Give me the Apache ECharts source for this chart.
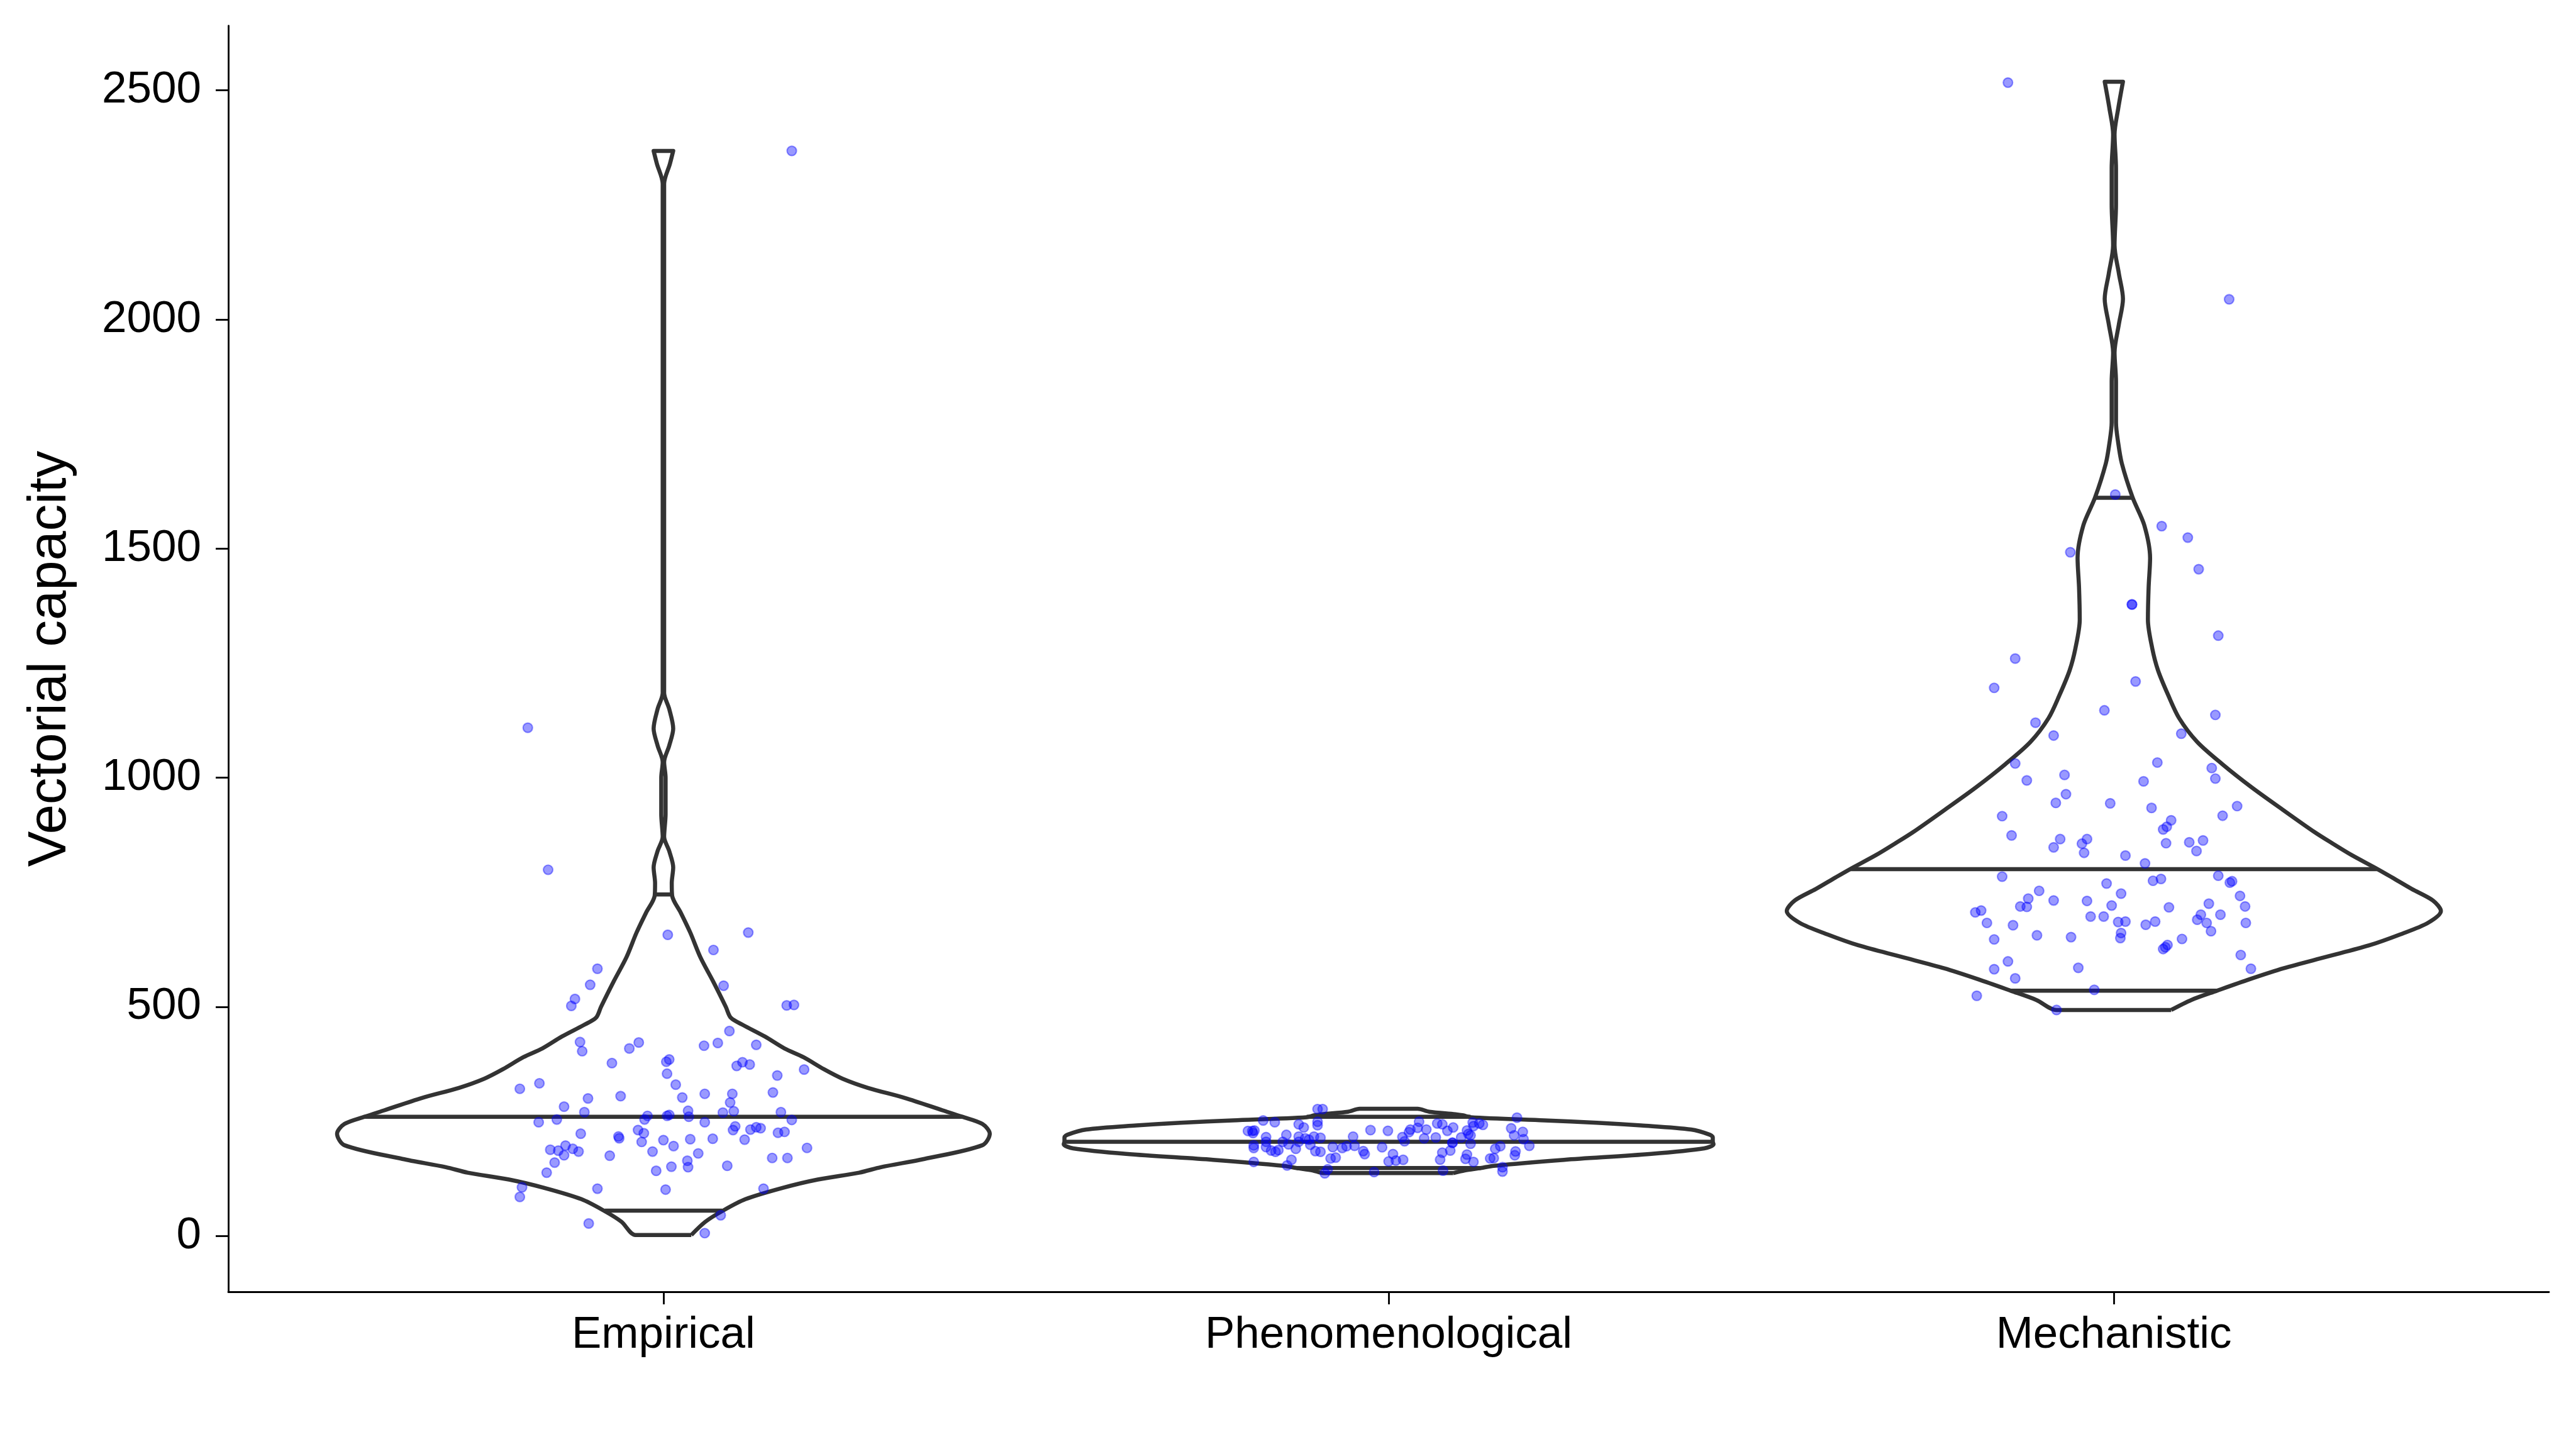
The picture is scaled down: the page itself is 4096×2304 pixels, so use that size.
<!DOCTYPE html>
<html>
<head>
<meta charset="utf-8">
<script src="https://cdn.jsdelivr.net/npm/echarts@6/dist/echarts.min.js"></script>
<style>html,body{margin:0;padding:0;background:#fff}#c{width:4096px;height:2304px}</style>
</head>
<body>
<div id="c"></div>
<script>
// ---------- categories & ticks ----------
const categories = ['Empirical', 'Phenomenological', 'Mechanistic'];
const categoryPositions = [0, 1, 2];
const yTicks = [0, 500, 1000, 1500, 2000, 2500];

// ---------- jittered points (value, horizontal jitter in category units) ----------
const empiricalY = [657,662,624,583,548,546,517,502,503,504,447,423,403,409,422,415,421,417,377,380,385,371,379,374,363,354,350,321,333,330,300,305,302,310,310,313,291,282,270,273,269,272,270,262,254,262,264,260,248,254,248,253,239,231,232,237,235,231,224,223,217,213,225,227,205,209,211,212,210,197,190,188,186,184,176,175,184,196,180,192,160,164,150,151,142,153,170,170,138,106,85,103,101,103,27,45,6,1109,799,2368];
const empiricalJitter = [0.006,0.117,0.069,-0.091,-0.101,0.083,-0.122,-0.127,0.170,0.180,0.091,-0.115,-0.112,-0.047,-0.034,0.056,0.075,0.128,-0.071,0.004,0.008,0.101,0.109,0.119,0.194,0.005,0.157,-0.198,-0.171,0.017,-0.104,-0.059,0.026,0.057,0.095,0.151,0.092,-0.137,-0.109,0.034,0.082,0.097,0.162,-0.022,-0.026,0.005,0.008,0.035,-0.172,-0.147,0.057,0.177,0.099,0.096,0.120,0.128,0.134,-0.035,-0.027,-0.114,-0.062,-0.061,0.158,0.167,-0.030,0.000,0.037,0.068,0.112,-0.135,-0.125,-0.156,-0.145,-0.117,-0.137,-0.074,-0.015,0.014,0.048,0.198,-0.150,0.033,0.034,0.011,-0.010,0.088,0.150,0.171,-0.161,-0.195,-0.198,-0.091,0.003,0.138,-0.103,0.079,0.057,-0.187,-0.159,0.177];

const phenomenologicalY = [276.7,276.7,251.8,248,258,229,229,230,224.4,215.6,205.3,193.8,197.6,191.9,161.4,186.2,183.5,187.3,205.3,220.5,199.6,190,243.5,236.6,216.7,205.3,212.9,209.9,198.8,216.7,214.1,185,183.5,249.2,241.5,193.8,169,170.9,191.9,195.7,216.7,196.5,185,178.5,166,153.7,145.3,136.5,230.9,193.4,229.3,178.5,162.5,164.4,166,139.2,215.6,206.4,226.3,232,235.8,249.2,232,212.9,214.8,245.4,243.5,229.3,236.6,203.4,203,181.6,186.2,166.3,142.3,214.8,230.1,222.4,219.4,247.3,239.6,245.4,242.3,201.1,177.4,168.2,161.4,169,169.8,190,195.7,149.9,140.4,234.7,219.4,227,211,196.5,184.3,175.9];
const phenomenologicalJitter = [-0.098,-0.091,-0.173,-0.157,0.177,-0.194,-0.188,-0.185,-0.187,-0.169,-0.169,-0.169,-0.186,-0.186,-0.186,-0.162,-0.156,-0.152,-0.146,-0.141,-0.138,-0.128,-0.124,-0.117,-0.124,-0.124,-0.115,-0.110,-0.108,-0.103,-0.094,-0.101,-0.094,-0.098,-0.098,-0.077,-0.080,-0.073,-0.064,-0.058,-0.049,-0.047,-0.035,-0.033,-0.134,-0.140,-0.084,-0.088,-0.025,-0.009,-0.001,0.006,0.000,0.010,0.020,-0.020,0.019,0.022,0.028,0.030,0.040,0.042,0.052,0.049,0.065,0.067,0.074,0.081,0.089,0.088,0.088,0.074,0.085,0.071,0.075,0.100,0.108,0.110,0.113,0.116,0.117,0.125,0.130,0.113,0.108,0.106,0.117,0.140,0.145,0.147,0.154,0.157,0.157,0.169,0.173,0.185,0.186,0.194,0.175,0.174];

const mechanisticY = [1196,1210,1147,1137,1120,1092,1096,1031,1033,1021,994,1006,992,998,964,945,944,934,938,916,917,907,893,887,874,866,848,856,866,836,857,859,863,840,830,813,784,769,775,779,786,771,774,753,747,742,736,732,731,719,718,721,717,725,719,706,710,697,697,685,686,701,690,701,683,678,679,686,683,683,665,647,656,652,661,650,648,626,635,630,599,582,562,585,613,583,524,537,493,2517,2044,1618,1549,1524,1492,1455,1378,1378,1310,1260];
const mechanisticJitter = [-0.165,0.030,-0.013,0.140,-0.108,-0.083,0.093,-0.136,0.060,0.135,-0.120,-0.068,0.041,0.140,-0.066,-0.080,-0.005,0.052,0.170,-0.154,0.150,0.079,0.073,0.068,-0.141,-0.074,-0.083,-0.044,-0.037,-0.041,0.072,0.104,0.123,0.114,0.016,0.043,-0.154,-0.010,0.054,0.065,0.144,0.160,0.163,-0.103,0.010,0.174,-0.118,-0.083,-0.037,-0.129,-0.120,-0.003,0.076,0.131,0.181,-0.191,-0.183,-0.032,-0.014,0.006,0.016,0.120,0.115,0.147,-0.175,-0.139,0.044,0.057,0.128,0.182,0.134,-0.165,-0.106,-0.059,0.010,0.009,0.094,0.068,0.074,0.071,-0.146,-0.165,-0.136,-0.049,0.175,0.189,-0.189,-0.027,-0.079,-0.146,0.159,0.002,0.066,0.102,-0.060,0.117,0.025,0.025,0.144,-0.136];

// ---------- violin outlines: value level and half-width (category units) ----------
const empiricalProfileY = [2,31,54,80,105,123,138,150,168,198,223,244,260,274,301,323,343,364,390,409,435,460,476,500,554,608,662,705,743,770,804,840,871,920,962,1000,1034,1070,1107,1150,1185,1253,2242,2296,2340,2368];
const empiricalProfileW = [0.0385,0.058,0.081,0.113,0.165,0.213,0.27,0.30,0.36,0.44,0.45,0.44,0.412,0.385,0.333,0.282,0.247,0.221,0.193,0.167,0.14,0.11,0.093,0.086,0.069,0.051,0.037,0.024,0.012,0.0115,0.0135,0.008,0.001,0.003,0.003,0.003,0.001,0.008,0.0135,0.008,0.001,0.001,0.001,0.001,0.009,0.0135];

const phenomenologicalProfileY = [137,143,148,153,166,179,191,200,206,215,221,232,241,247,252,259,263,265.5,271,277.5];
const phenomenologicalProfileW = [0.089,0.105,0.127,0.145,0.242,0.362,0.435,0.448,0.447,0.447,0.4425,0.417,0.348,0.287,0.215,0.113,0.103,0.092,0.056,0.040];

const mechanisticProfileY = [493,515,535,560,584,609,634,658,683,709,732,757,782,801,831,856,881,930,979,1029,1078,1130,1180,1234,1282,1345,1416,1479,1551,1611,1686,1731,1775,1865,1928,1990,2045,2100,2162,2250,2330,2404,2460,2519];
const mechanisticProfileW = [0.079,0.107,0.142,0.187,0.234,0.293,0.352,0.395,0.433,0.451,0.44,0.411,0.384,0.363,0.328,0.302,0.277,0.233,0.19,0.15,0.115,0.09,0.075,0.061,0.053,0.047,0.048,0.05,0.042,0.026,0.011,0.006,0.003,0.003,0.001,0.007,0.0126,0.007,0.001,0.003,0.003,0.001,0.006,0.0126];

// ---------- inner lines (2.5 %, median, 97.5 %) and their half-widths ----------
const empiricalQuantY = [55, 260, 745];
const empiricalQuantW = [0.081, 0.412, 0.012];
const phenomenologicalQuantY = [148, 205.5, 260];
const phenomenologicalQuantW = [0.127, 0.446, 0.113];
const mechanisticQuantY = [535, 800.5, 1611];
const mechanisticQuantW = [0.142, 0.363, 0.026];

// ---------- build series ----------
const groups = [
  {pos: categoryPositions[0], y: empiricalY, j: empiricalJitter, py: empiricalProfileY, pw: empiricalProfileW, qy: empiricalQuantY, qw: empiricalQuantW},
  {pos: categoryPositions[1], y: phenomenologicalY, j: phenomenologicalJitter, py: phenomenologicalProfileY, pw: phenomenologicalProfileW, qy: phenomenologicalQuantY, qw: phenomenologicalQuantW},
  {pos: categoryPositions[2], y: mechanisticY, j: mechanisticJitter, py: mechanisticProfileY, pw: mechanisticProfileW, qy: mechanisticQuantY, qw: mechanisticQuantW}
];

const OUTLINE = '#333333';
const LW = 6.5;
const series = [];

groups.forEach(g => {
  const poly = [];
  for (let i = 0; i < g.py.length; i++) poly.push([g.pos + g.pw[i], g.py[i]]);
  for (let i = g.py.length - 1; i >= 0; i--) poly.push([g.pos - g.pw[i], g.py[i]]);
  poly.push([g.pos + g.pw[0], g.py[0]]);
  series.push({
    type: 'line', data: poly, showSymbol: false, symbol: 'none', smooth: 0.3,
    lineStyle: {color: OUTLINE, width: LW, join: 'round'},
    silent: true, z: 2, clip: false
  });
  g.qy.forEach((q, k) => {
    series.push({
      type: 'line', data: [[g.pos - g.qw[k], q], [g.pos + g.qw[k], q]],
      showSymbol: false, symbol: 'none',
      lineStyle: {color: OUTLINE, width: LW},
      silent: true, z: 2
    });
  });
});

groups.forEach(g => {
  series.push({
    type: 'scatter',
    data: g.y.map((v, i) => [g.pos + g.j[i], v]),
    symbolSize: 15,
    itemStyle: {color: 'rgba(0,0,255,0.5)', borderColor: 'rgba(0,0,255,0.5)', borderWidth: 2.2},
    silent: true, z: 5
  });
});

const FONT = 'Liberation Sans, Arial, sans-serif';
const chart = echarts.init(document.getElementById('c'), null, {renderer: 'canvas'});
chart.setOption({
  animation: false,
  backgroundColor: '#ffffff',
  grid: {left: 363, right: 43, top: 41, bottom: 250, containLabel: false},
  xAxis: {
    type: 'value', min: -0.6, max: 2.6,
    splitLine: {show: false},
    axisLine: {show: true, onZero: false, lineStyle: {color: '#000', width: 2.85}},
    axisTick: {show: true, customValues: categoryPositions, length: 20, lineStyle: {color: '#000', width: 2.85}},
    axisLabel: {show: true, customValues: categoryPositions, formatter: v => categories[Math.round(v)],
      margin: 34, fontSize: 71, color: '#000', fontFamily: FONT}
  },
  yAxis: {
    type: 'value', min: -122, max: 2641,
    name: 'Vectorial capacity', nameLocation: 'middle', nameRotate: 90, nameGap: 240,
    nameTextStyle: {fontSize: 85, color: '#000', fontFamily: FONT},
    splitLine: {show: false},
    axisLine: {show: true, onZero: false, lineStyle: {color: '#000', width: 2.85}},
    axisTick: {show: true, customValues: yTicks, length: 20, lineStyle: {color: '#000', width: 2.85}},
    axisLabel: {show: true, customValues: yTicks, formatter: v => String(v), margin: 43, fontSize: 71, color: '#000', fontFamily: FONT}
  },
  series: series
});
</script>
</body>
</html>
